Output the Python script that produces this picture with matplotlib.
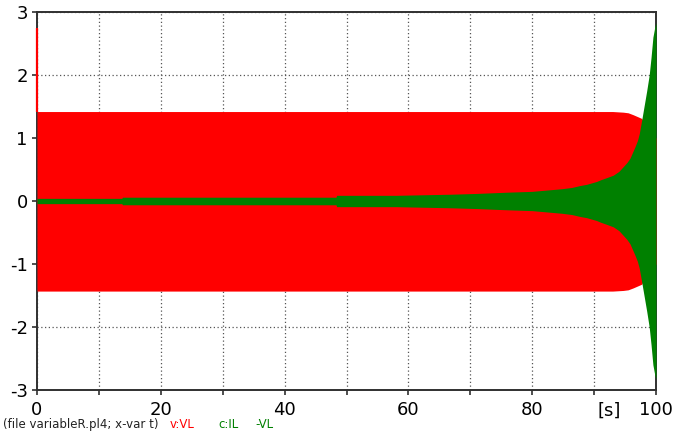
import numpy as np
import matplotlib
matplotlib.use("Agg")
import matplotlib.pyplot as plt
from matplotlib.transforms import offset_copy

plt.rcParams['font.family'] = ['DejaVu Sans']
plt.rcParams['axes.unicode_minus'] = False

# Envelope of v:VL (dense oscillation drawn as a filled band)
red_t = [0, 10, 20, 30, 40, 50, 60, 70, 80, 90, 93.0, 94.7, 95.5, 96.3, 97.0, 97.7, 98.2, 100]
red_hi = [1.42, 1.42, 1.42, 1.42, 1.42, 1.42, 1.42, 1.42, 1.42, 1.42, 1.42, 1.41, 1.40, 1.37, 1.34, 1.31, 1.20, 1.00]
red_lo = [-1.43, -1.43, -1.43, -1.43, -1.43, -1.43, -1.43, -1.43, -1.43, -1.43, -1.43, -1.42, -1.41, -1.38, -1.35, -1.32, -1.20, -1.00]
red_spike_t = 0.0
red_spike_peak = 2.75

# Envelope of c:IL-VL
green_t = [0, 13.7, 13.8, 48.3, 48.4, 58, 63, 67, 71, 76, 80, 82.5, 84.8, 86.4, 87.7,
           88.8, 90.4, 91.0, 92.0, 93.1, 94.0, 94.7, 95.3, 95.8, 96.2, 96.6, 97.0,
           97.3, 97.7, 98.1, 98.5, 98.9, 99.2, 99.5, 99.8, 100]
green_amp = [0.042, 0.042, 0.06, 0.06, 0.09, 0.09, 0.10, 0.108, 0.12, 0.14, 0.153, 0.175,
             0.195, 0.215, 0.245, 0.265, 0.31, 0.335, 0.37, 0.41, 0.47, 0.545, 0.61, 0.68,
             0.77, 0.86, 0.96, 1.07, 1.29, 1.52, 1.75, 2.0, 2.28, 2.6, 2.76, 2.83]

x_ticks = [0, 10, 20, 30, 40, 50, 60, 70, 80, 90, 100]
x_labels = ['0', '', '20', '', '40', '', '60', '', '80', '', '100']
x_unit = '[s]'
x_unit_pos = 92.5
y_ticks = [-3, -2, -1, 0, 1, 2, 3]
y_labels = ['-3', '-2', '-1', '0', '1', '2', '3']

RED = '#FF0000'
GREEN = '#008000'
TICK_LEN = 3.6
TICK_PAD = 4.5
LABEL_SIZE = 13

fig = plt.figure(figsize=(6.73, 4.34), dpi=100)
ax = fig.add_axes([37 / 673, 1 - 390 / 434, (656 - 37) / 673, (390 - 12) / 434])

ax.fill_between(red_t, red_lo, red_hi, color=RED, linewidth=0, zorder=3)
ax.vlines(red_spike_t, red_hi[0], red_spike_peak, color=RED, linewidth=1.6,
          zorder=4, clip_on=False)
g = np.array(green_amp)
ax.fill_between(green_t, -g, g, color=GREEN, linewidth=0, zorder=3.5)

ax.set_xlim(0, 100)
ax.set_ylim(-3, 3)
ax.set_xticks(x_ticks)
ax.set_xticklabels(x_labels)
ax.set_yticks(y_ticks)
ax.set_yticklabels(y_labels)
ax.tick_params(direction='out', length=TICK_LEN, width=1.2, color='#303030',
               labelsize=LABEL_SIZE, pad=3)
ax.tick_params(axis='x', pad=TICK_PAD)

# Unit label sits on the tick-label row between 90 and 100
unit_tr = offset_copy(ax.get_xaxis_transform(), fig=fig, x=0,
                      y=-(TICK_LEN + TICK_PAD), units='points')
ax.text(x_unit_pos, 0, x_unit, transform=unit_tr, ha='center', va='top',
        fontsize=LABEL_SIZE, clip_on=False)

ax.grid(True, linestyle=(0, (1, 2)), color='#555555', linewidth=0.9)
ax.set_axisbelow(True)
for s in ax.spines.values():
    s.set_color('#303030')
    s.set_linewidth(1.4)

# Footer with file info and curve names
base_y = 1 - 427.7 / 434
fig.text(3 / 673, base_y, '(file variableR.pl4; x-var t)', fontsize=8.5,
         va='baseline', ha='left', color='#222222')
fig.text(170 / 673, base_y, 'v:VL', fontsize=8.5, va='baseline', color=RED)
fig.text(218 / 673, base_y, 'c:IL', fontsize=8.5, va='baseline', color=GREEN)
fig.text(255 / 673, base_y, '-VL', fontsize=8.5, va='baseline', color=GREEN)

fig.savefig('out.png', dpi=100)
